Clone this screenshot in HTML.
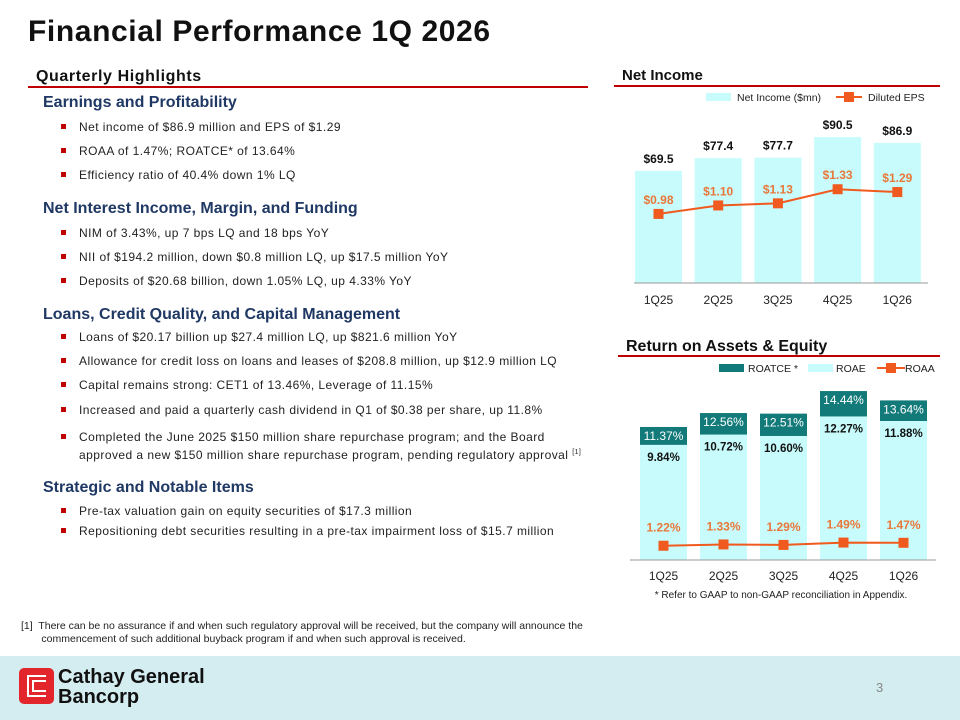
<!DOCTYPE html>
<html><head><meta charset="utf-8"><style>
body{margin:0;width:960px;height:720px;position:relative;background:#fff;font-family:"Liberation Sans",sans-serif;overflow:hidden}
.a{position:absolute;white-space:nowrap;line-height:1}
.h{font-size:16px;font-weight:bold;color:#1f3864;left:43px}
.b{font-size:12px;letter-spacing:0.45px;color:#222;left:79px}
.sq{position:absolute;width:5px;height:5px;background:#c00000;left:61px}
.sec{font-size:16px;font-weight:bold;color:#111}
.rl{position:absolute;height:2px;background:#c00000}
</style></head><body>
<div class="a" style="left:28px;top:17px;font-size:30px;letter-spacing:0.6px;font-weight:bold;color:#111">Financial Performance 1Q 2026</div>

<div class="a sec" style="left:36px;top:69px;letter-spacing:0.6px">Quarterly Highlights</div>
<div class="rl" style="left:28px;top:86px;width:560px"></div>
<div class="a sec" style="left:622px;top:68px;font-size:15px">Net Income</div>
<div class="rl" style="left:614px;top:85px;width:326px"></div>
<div class="a sec" style="left:626px;top:339px">Return on Assets &amp; Equity</div>
<div class="rl" style="left:618px;top:355px;width:322px"></div>

<div id="txt"></div>

<div class="a" style="left:21px;top:620px;font-size:10.5px;color:#222;line-height:13px">[1]&nbsp; There can be no assurance if and when such regulatory approval will be received, but the company will announce the<br>&nbsp;&nbsp;&nbsp;&nbsp;&nbsp;&nbsp;&nbsp;commencement of such additional buyback program if and when such approval is received.</div>

<div style="position:absolute;left:0;top:656px;width:960px;height:64px;background:#d3edf1"></div>
<svg style="position:absolute;left:19px;top:668px" width="35" height="36" viewBox="0 0 35 36"><rect x="0" y="0" width="35" height="36" rx="5" fill="#e3262b"/><path d="M27 8 H9 V28 H27 M27 13 H14 V23 H27" fill="none" stroke="#fff" stroke-width="2"/></svg>
<div class="a" style="left:58px;top:667px;font-size:20px;font-weight:bold;color:#111;line-height:20px">Cathay General<br>Bancorp</div>
<div class="a" style="left:876px;top:681px;font-size:13px;color:#888">3</div>

<svg id="ni" style="position:absolute;left:0;top:0" width="960" height="720"></svg>

<script>
const items=[
['h',103,'Earnings and Profitability'],
['b',127,'Net income of $86.9 million and EPS of $1.29'],
['b',151,'ROAA of 1.47%; ROATCE* of 13.64%'],
['b',175,'Efficiency ratio of 40.4% down 1% LQ'],
['h',209,'Net Interest Income, Margin, and Funding'],
['b',233,'NIM of 3.43%, up 7 bps LQ and 18 bps YoY'],
['b',257,'NII of $194.2 million, down $0.8 million LQ, up $17.5 million YoY'],
['b',281,'Deposits of $20.68 billion, down 1.05% LQ, up 4.33% YoY'],
['h',315,'Loans, Credit Quality, and Capital Management'],
['b',337,'Loans of $20.17 billion up $27.4 million LQ, up $821.6 million YoY'],
['b',361,'Allowance for credit loss on loans and leases of $208.8 million, up $12.9 million LQ'],
['b',385,'Capital remains strong: CET1 of 13.46%, Leverage of 11.15%'],
['b',410,'Increased and paid a quarterly cash dividend in Q1 of $0.38 per share, up 11.8%'],
['b',437,'Completed the June 2025 $150 million share repurchase program; and the Board'],
['c',455,'approved a new $150 million share repurchase program, pending regulatory approval <sup style="font-size:7px">[1]</sup>'],
['h',488,'Strategic and Notable Items'],
['b',511,'Pre-tax valuation gain on equity securities of $17.3 million'],
['b',531,'Repositioning debt securities resulting in a pre-tax impairment loss of $15.7 million']];
const T=document.getElementById('txt');
items.forEach((it,i)=>{const d=document.createElement('div');
d.className='a '+(it[0]=='h'?'h':'b');
d.style.top=(it[1]-(it[0]=='h'?8:6))+'px';d.innerHTML=it[2];


T.appendChild(d);
if(it[0]=='b'){const s=document.createElement('div');s.className='sq';s.style.top=(it[1]-3)+'px';


T.appendChild(s);}});
</script>

<script>
const quarters=['1Q25','2Q25','3Q25','4Q25','1Q26'];
const netIncome=[69.5,77.4,77.7,90.5,86.9];
const eps=[0.98,1.10,1.13,1.33,1.29];
const roatce=[11.37,12.56,12.51,14.44,13.64];
const roae=[9.84,10.72,10.60,12.27,11.88];
const roaa=[1.22,1.33,1.29,1.49,1.47];
const NS='http://www.w3.org/2000/svg';
const S=document.getElementById('ni');
function el(t,a,txt){const e=document.createElementNS(NS,t);for(const k in a)e.setAttribute(k,a[k]);if(txt!=null)e.textContent=txt;S.appendChild(e);return e;}
function txt(x,y,s,fill,size,w,name){const e=el('text',{x:x,y:y,'text-anchor':'middle','font-size':size,'font-weight':w||'normal',fill:fill,'font-family':'Liberation Sans, sans-serif'},s);

return e;}
const niX=i=>658.5+i*59.7, niBase=283, niY=v=>niBase-v*1.613, epsY=v=>niBase-v*70.5, bw=47;
let pts=[];
quarters.forEach((q,i)=>{const x=niX(i);
 const r=el('rect',{x:x-bw/2,y:niY(netIncome[i]),width:bw,height:niBase-niY(netIncome[i]),fill:'#c8fcfc'});
 
 
 txt(x,niY(netIncome[i])-8,'$'+netIncome[i].toFixed(1),'#111',12,'bold','net-income-label');
 txt(x,niBase+21,q,'#222',12,'normal','x-tick-label');
 pts.push([x,epsY(eps[i])]);});
const ax1=el('line',{x1:634,x2:928,y1:niBase,y2:niBase,stroke:'#999','stroke-width':1});


const l1=el('polyline',{points:pts.map(p=>p.join(',')).join(' '),fill:'none',stroke:'#f05a1e','stroke-width':2});


pts.forEach((p,i)=>{const m=el('rect',{x:p[0]-5,y:p[1]-5,width:10,height:10,fill:'#f05a1e'});
 
 
 txt(p[0],p[1]-10,'$'+eps[i].toFixed(2),'#e8773a',12,'bold','eps-label');});
let lg=el('rect',{x:706,y:93,width:25,height:8,fill:'#c8fcfc'});
let lt=el('text',{x:737,y:101,'font-size':10.5,fill:'#222','font-family':'Liberation Sans'},'Net Income ($mn)');
lg=el('line',{x1:836,x2:862,y1:97,y2:97,stroke:'#f05a1e','stroke-width':2});
el('rect',{x:844,y:92,width:10,height:10,fill:'#f05a1e'});
lt=el('text',{x:868,y:101,'font-size':10.5,fill:'#222','font-family':'Liberation Sans'},'Diluted EPS');
const rX=i=>663.5+i*60, rBase=560, rY=v=>rBase-v*11.7;
pts=[];
quarters.forEach((q,i)=>{const x=rX(i);
 const b=el('rect',{x:x-bw/2,y:rY(roae[i]),width:bw,height:rBase-rY(roae[i]),fill:'#c8fcfc'});
 
 
 const t=el('rect',{x:x-bw/2,y:rY(roatce[i]),width:bw,height:rY(roae[i])-rY(roatce[i]),fill:'#137a7a'});
 
 
 txt(x,rY(roatce[i])+13,roatce[i].toFixed(2)+'%','#fff',12,'normal','roatce-label');
 txt(x,rY(roae[i])+16,roae[i].toFixed(2)+'%','#111',11.5,'bold','roae-label');
 txt(x,rBase+20,q,'#222',12,'normal','x-tick-label');
 pts.push([x,rY(roaa[i])]);});
const ax2=el('line',{x1:630,x2:936,y1:rBase,y2:rBase,stroke:'#999','stroke-width':1});


const l2=el('polyline',{points:pts.map(p=>p.join(',')).join(' '),fill:'none',stroke:'#f05a1e','stroke-width':2});


pts.forEach((p,i)=>{const m=el('rect',{x:p[0]-5,y:p[1]-5,width:10,height:10,fill:'#f05a1e'});
 
 
 txt(p[0],p[1]-14,roaa[i].toFixed(2)+'%','#e8773a',12,'bold','roaa-label');});
lg=el('rect',{x:719,y:364,width:25,height:8,fill:'#137a7a'});
lt=el('text',{x:748,y:372,'font-size':10.5,fill:'#222','font-family':'Liberation Sans'},'ROATCE *');
lg=el('rect',{x:808,y:364,width:25,height:8,fill:'#c8fcfc'});
lt=el('text',{x:836,y:372,'font-size':10.5,fill:'#222','font-family':'Liberation Sans'},'ROAE');
lg=el('line',{x1:877,x2:905,y1:368,y2:368,stroke:'#f05a1e','stroke-width':2});
el('rect',{x:886,y:363,width:10,height:10,fill:'#f05a1e'});
lt=el('text',{x:905,y:372,'font-size':10.5,fill:'#222','font-family':'Liberation Sans'},'ROAA');
lt=el('text',{x:781,y:598,'text-anchor':'middle','font-size':10,fill:'#222','font-family':'Liberation Sans'},'* Refer to GAAP to non-GAAP reconciliation in Appendix.');


</script>
</body></html>
